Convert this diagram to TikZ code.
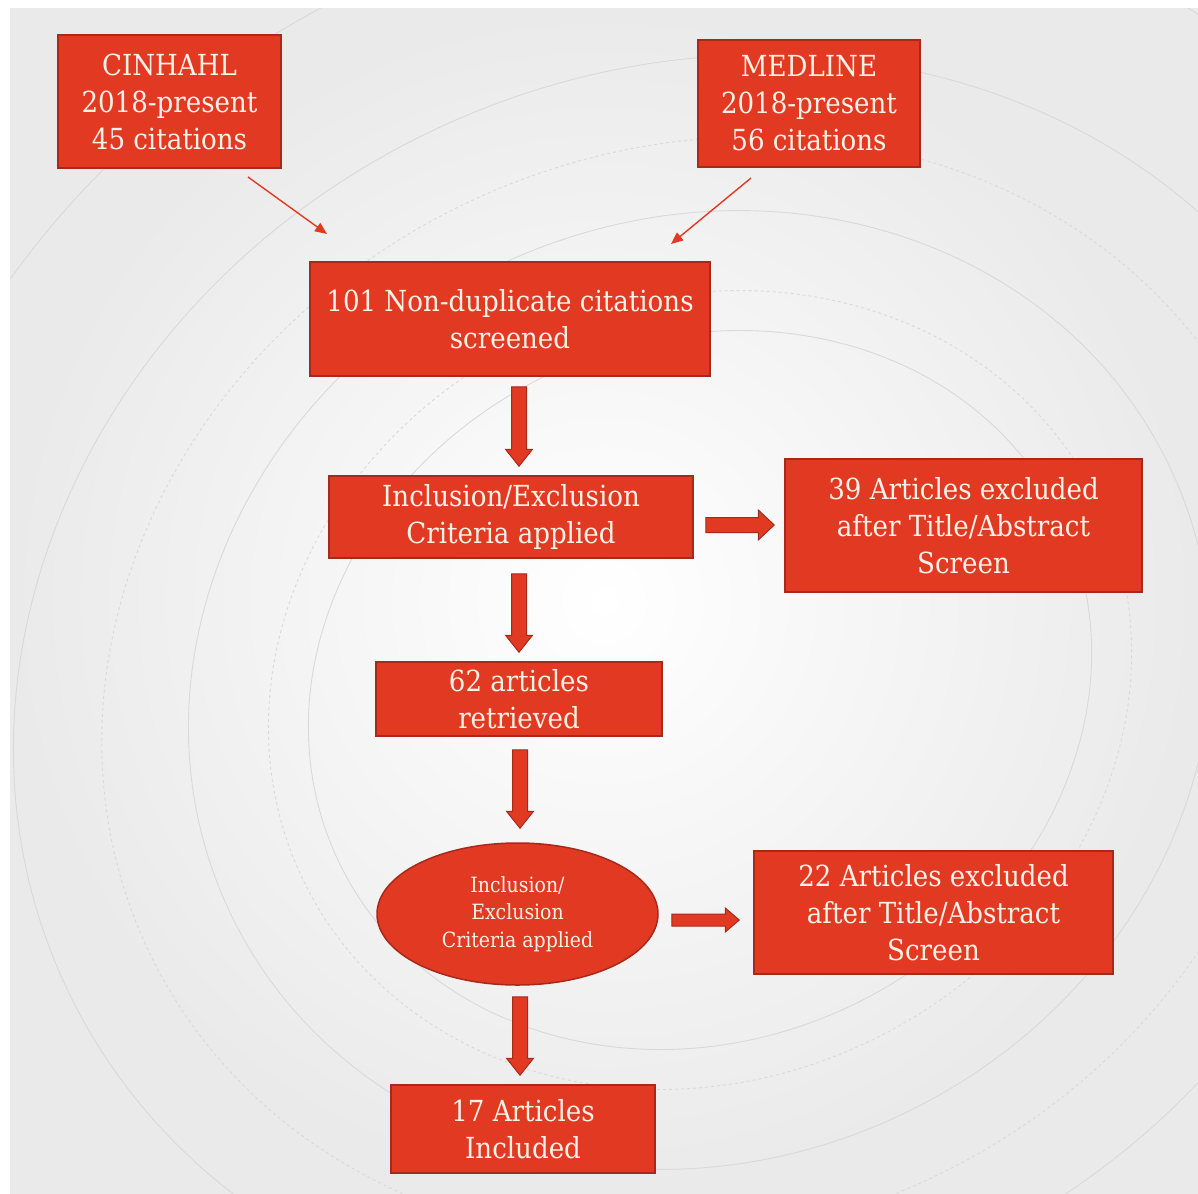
\documentclass[tikz,border=0pt]{standalone}
\usepackage{fontspec}
\setmainfont{DejaVu Serif Condensed}
\usetikzlibrary{calc,arrows.meta,shapes.geometric}
\definecolor{boxred}{HTML}{E23A22}
\definecolor{boxedge}{HTML}{A8281A}
\definecolor{txtc}{HTML}{FDF1E8}
\definecolor{bggray}{HTML}{EAEAEA}
\definecolor{curvec}{HTML}{D9D9D9}
\tikzset{
  box/.style={draw=boxedge, line width=1.5pt, fill=boxred, text=txtc, align=center, inner sep=0pt,
    font=\fontsize{29}{37}\selectfont},
  ellbox/.style={box, ellipse, font=\fontsize{21}{27.5}\selectfont},
  thinarrow/.style={draw=boxred, line width=1.4pt, -{Triangle[length=12pt,width=10pt]}},
  blockarrow/.style={draw=boxedge, fill=boxred, line width=1pt, line join=miter},
  bgcurve/.style={draw=curvec, line width=0.9pt},
}
\newcommand{\blockarr}[5]{%
  \coordinate (BAh) at ($(#2)!#5!(#1)$);
  \draw[blockarrow] ($(#1)!#3!90:(#2)$) -- ($(BAh)!#3!90:(#2)$) -- ($(BAh)!#4!90:(#2)$) -- (#2)
    -- ($(BAh)!#4!-90:(#2)$) -- ($(BAh)!#3!-90:(#2)$) -- ($(#1)!#3!-90:(#2)$) -- cycle;
}
\begin{document}
\begin{tikzpicture}[x=1pt,y=-1pt]
\useasboundingbox (0,0) rectangle (1198,1193);
% background
\fill[white] (0,0) rectangle (1198,1193);
\shade[inner color=white, outer color=bggray] (10,9) rectangle (1198,1193);
\begin{scope}
  \clip (10,9) rectangle (1198,1193);
  \foreach \rx/\ry in {400/350, 520/470, 700/620, 860/780} {
    \draw[bgcurve, rotate around={25:(700,690)}] (700,690) ellipse [x radius=\rx, y radius=\ry];
  }
  \foreach \rx/\ry in {440/390, 610/540} {
    \draw[bgcurve, dashed, rotate around={25:(700,690)}] (700,690) ellipse [x radius=\rx, y radius=\ry];
  }
\end{scope}

% nodes
\node[box, minimum width=223, minimum height=133] (cin) at (169.5,101.5) {CINHAHL\\2018-present\\45 citations};
\node[box, minimum width=222, minimum height=127] (med) at (809,103.5) {MEDLINE\\2018-present\\56 citations};
\node[box, minimum width=400, minimum height=114] (n101) at (510,319) {101 Non-duplicate citations\\screened};
\node[box, minimum width=364, minimum height=82] (incl) at (511,517) {Inclusion/Exclusion\\Criteria applied};
\node[box, minimum width=357, minimum height=133] (ex39) at (963.5,525.5) {39 Articles excluded\\after Title/Abstract\\Screen};
\node[box, minimum width=286, minimum height=74] (r62) at (519,699) {62 articles\\retrieved};
\node[ellbox, minimum width=281, minimum height=142] (ell) at (517.5,914) {Inclusion/\\Exclusion\\Criteria applied};
\node[box, minimum width=359, minimum height=123] (ex22) at (933.5,912.5) {22 Articles excluded\\after Title/Abstract\\Screen};
\node[box, minimum width=264, minimum height=88] (inc17) at (523,1129) {17 Articles\\Included};

% thin arrows
\coordinate (t1s) at (248,177);
\coordinate (t1e) at (327,234);
\coordinate (t2s) at (751,178);
\coordinate (t2e) at (671,244);
\draw[thinarrow] (t1s) -- (t1e);
\draw[thinarrow] (t2s) -- (t2e);

% block arrows
\coordinate (d1s) at ([xshift=9pt,yshift=-10pt]n101.south);
\coordinate (d1e) at ([yshift=9pt]d1s |- incl.north);
\coordinate (d2s) at ([xshift=8pt,yshift=-15pt]incl.south);
\coordinate (d2e) at ([yshift=9pt]d2s |- r62.north);
\coordinate (d3s) at ([xshift=1pt,yshift=-13pt]r62.south);
\coordinate (d3e) at ([yshift=14pt]d3s |- ell.north);
\coordinate (d4s) at ([xshift=2.5pt,yshift=-11pt]ell.south);
\coordinate (d4e) at ([yshift=9pt]d4s |- inc17.north);
\coordinate (r1s) at ([xshift=12pt,yshift=-8pt]incl.east);
\coordinate (r1e) at ([xshift=-10pt]r1s -| ex39.west);
\coordinate (r2s) at ([xshift=13pt,yshift=-6pt]ell.east);
\coordinate (r2e) at ([xshift=-14pt]r2s -| ex22.west);
\blockarr{d1s}{d1e}{7.5pt}{13.5pt}{17pt}
\blockarr{d2s}{d2e}{7.5pt}{13.5pt}{17pt}
\blockarr{d3s}{d3e}{7.5pt}{13.5pt}{17pt}
\blockarr{d4s}{d4e}{7.5pt}{13.5pt}{17pt}
\blockarr{r1s}{r1e}{7.5pt}{15pt}{16pt}
\blockarr{r2s}{r2e}{6pt}{12pt}{14pt}
\end{tikzpicture}
\end{document}
